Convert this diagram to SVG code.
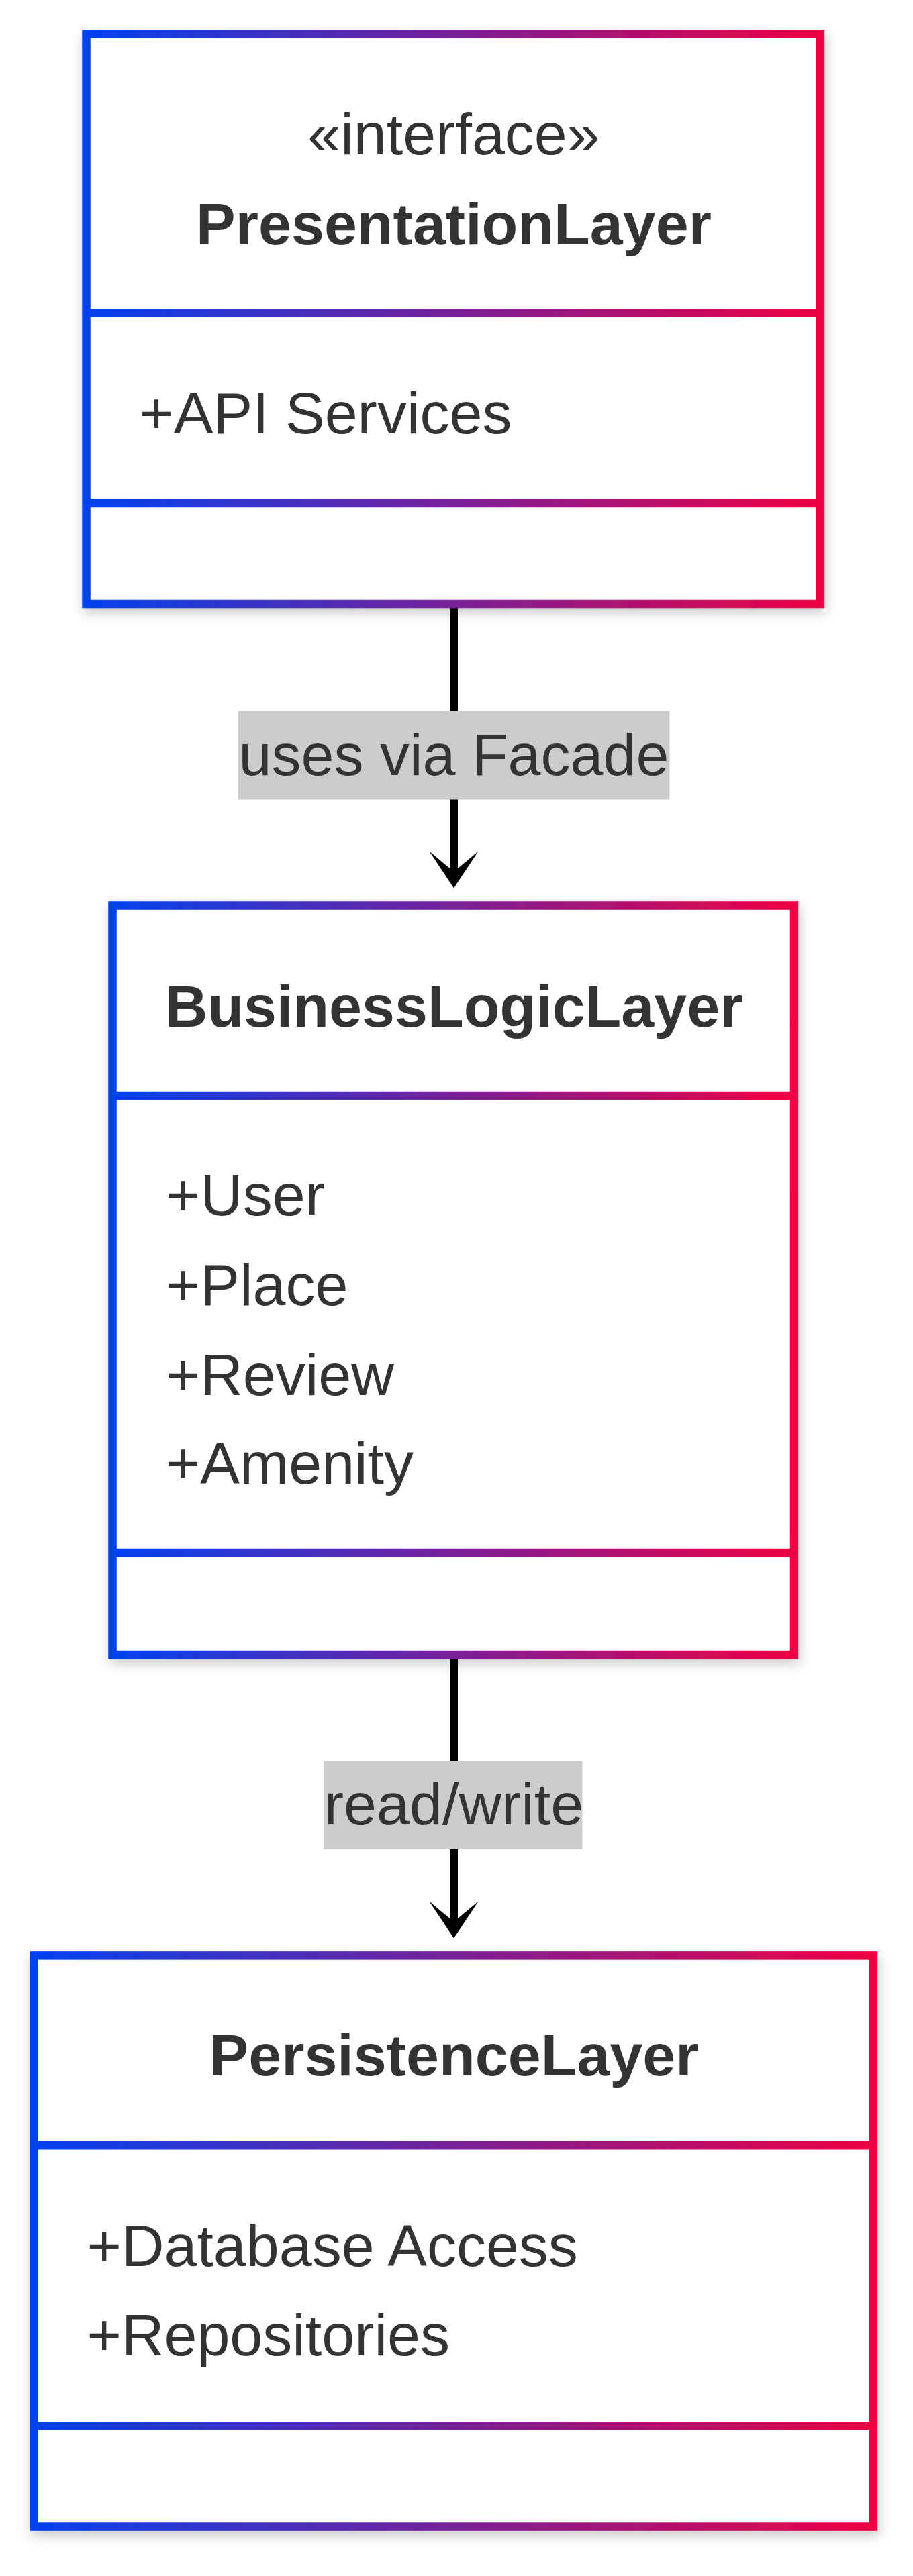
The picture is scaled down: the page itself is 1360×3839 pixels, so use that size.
<svg xmlns="http://www.w3.org/2000/svg" width="1360" height="3839" viewBox="0 0 1360 3839">
<style>
.t{font-family:"Liberation Sans",Arial,Helvetica,sans-serif;font-size:88px;fill:#333}
.b{font-weight:bold}
.c{text-anchor:middle}
.edge{stroke:#000;stroke-width:12;fill:none}
.lbl{fill:#cccccc}
.box{fill:#fff;stroke-width:12.5}
.div{stroke-width:12.5;fill:none}
</style>
<defs>
<linearGradient id="g1" gradientUnits="userSpaceOnUse" x1="122" y1="0" x2="1228" y2="0"><stop offset="0" stop-color="#0042F0"/><stop offset="1" stop-color="#F00042"/></linearGradient>
<linearGradient id="g2" gradientUnits="userSpaceOnUse" x1="161" y1="0" x2="1189" y2="0"><stop offset="0" stop-color="#0042F0"/><stop offset="1" stop-color="#F00042"/></linearGradient>
<linearGradient id="g3" gradientUnits="userSpaceOnUse" x1="44" y1="0" x2="1307" y2="0"><stop offset="0" stop-color="#0042F0"/><stop offset="1" stop-color="#F00042"/></linearGradient>
<filter id="sh" x="-10%" y="-10%" width="120%" height="125%"><feDropShadow dx="2" dy="7" stdDeviation="9" flood-color="#000" flood-opacity="0.22"/></filter>
<marker id="dep" viewBox="0 0 20 14" refX="14" refY="7" markerWidth="122" markerHeight="85.4" markerUnits="userSpaceOnUse" orient="auto"><path d="M18,7 L9,13 L14,7 L9,1 Z" fill="#000"/></marker>
</defs>
<rect x="0" y="0" width="1360" height="3839" fill="#fff"/>
<g id="connectors">
<g id="edge-presentation-business">
<line class="edge" x1="676" y1="900" x2="676" y2="1299" marker-end="url(#dep)"/>
<rect class="lbl" x="355" y="1059.5" width="642.5" height="132"/>
<text class="t c" x="676" y="1154.5">uses via Facade</text>
</g>
<g id="edge-business-persistence">
<line class="edge" x1="676" y1="2466" x2="676" y2="2864" marker-end="url(#dep)"/>
<rect class="lbl" x="482" y="2624" width="385.5" height="132"/>
<text class="t c" x="676" y="2718.5">read/write</text>
</g>
</g>
<g id="PresentationLayer">
<rect class="box" x="128.5" y="50.5" width="1093.5" height="849.5" stroke="url(#g1)" filter="url(#sh)"/>
<line class="div" x1="128.5" y1="466.6" x2="1222" y2="466.6" stroke="url(#g1)"/>
<line class="div" x1="128.5" y1="750" x2="1222" y2="750" stroke="url(#g1)"/>
<text class="t c" x="676" y="229.5">«interface»</text>
<text class="t b c" x="676" y="364.4">PresentationLayer</text>
<text class="t" x="207.3" y="645.7">+API Services</text>
</g>
<g id="BusinessLogicLayer">
<rect class="box" x="167.5" y="1349.5" width="1015.5" height="1116.5" stroke="url(#g2)" filter="url(#sh)"/>
<line class="div" x1="167.5" y1="1633" x2="1183" y2="1633" stroke="url(#g2)"/>
<line class="div" x1="167.5" y1="2314" x2="1183" y2="2314" stroke="url(#g2)"/>
<text class="t b c" x="676" y="1529.6">BusinessLogicLayer</text>
<text class="t" x="246.8" y="1811.2">+User</text>
<text class="t" x="246.8" y="1945.1">+Place</text>
<text class="t" x="246.8" y="2079">+Review</text>
<text class="t" x="246.8" y="2210.7">+Amenity</text>
</g>
<g id="PersistenceLayer">
<rect class="box" x="50.7" y="2914.4" width="1250.3" height="851.1" stroke="url(#g3)" filter="url(#sh)"/>
<line class="div" x1="50.7" y1="3197.3" x2="1301" y2="3197.3" stroke="url(#g3)"/>
<line class="div" x1="50.7" y1="3615.3" x2="1301" y2="3615.3" stroke="url(#g3)"/>
<text class="t b c" x="676" y="3093">PersistenceLayer</text>
<text class="t" x="129.5" y="3377.2">+Database Access</text>
<text class="t" x="129.5" y="3509.8">+Repositories</text>
</g>
</svg>
